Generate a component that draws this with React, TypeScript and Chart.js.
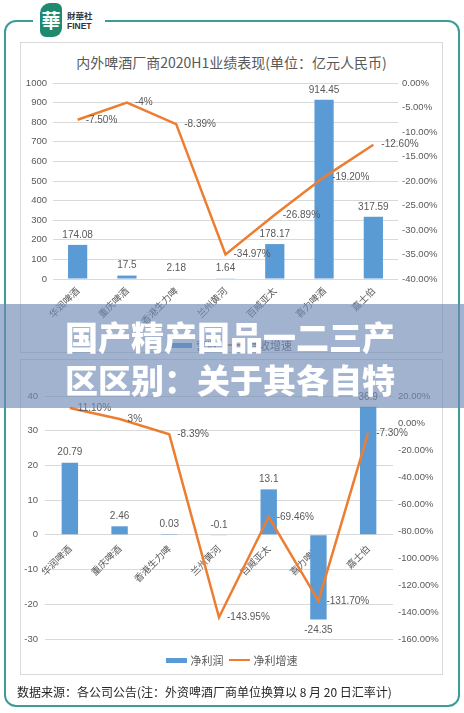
import React, { useEffect, useRef } from "react";
import { Chart, registerables } from "chart.js";
Chart.register(...registerables);

const categories = ["华润啤酒", "重庆啤酒", "香港生力啤", "兰州黄河", "百威亚太", "喜力啤酒", "嘉士伯"];
const revenue = [174.08, 17.5, 2.18, 1.64, 178.17, 914.45, 317.59];
const revenueGrowth = [-7.5, -4, -8.39, -34.97, -26.89, -19.2, -12.6];
const netProfit = [20.79, 2.46, 0.03, -0.1, 13.1, -24.35, 36.9];
const netProfitGrowth = [11.1, 3, -8.39, -143.95, -69.46, -131.7, -7.3];

const topLeftAxis = { min: 0, max: 1000, step: 100 };
const topRightAxis = { min: -40, max: 0, step: 5 };
const bottomLeftAxis = { min: -30, max: 40, step: 10 };
const bottomRightAxis = { min: -160, max: 20, step: 20 };

const titleText = "内外啤酒厂商2020H1业绩表现(单位：亿元人民币)";
const topLegend = ["营收", "营收增速"];
const bottomLegend = ["净利润", "净利增速"];
const bannerLines = ["国产精产国品一二三产", "区区别：关于其各自特"];
const footerText = "数据来源：各公司公告(注：外资啤酒厂商单位换算以 8 月 20 日汇率计)";

const BLUE = "#5b9bd5";
const ORANGE = "#ed7d31";
const GRID = "#d9d9d9";
const TEXT = "#595959";
const FONT = "'Liberation Sans', 'Noto Sans CJK SC', sans-serif";
const CJK = "'Noto Sans CJK SC', sans-serif";

const fmtPct = (v: number) => (Number.isInteger(v) ? `${v}%` : `${v.toFixed(2)}%`);

const labelPlugin = {
  id: "valueLabels",
  afterDatasetsDraw(chart: any) {
    const ctx = chart.ctx;
    ctx.save();
    ctx.font = `10px ${FONT}`;
    ctx.fillStyle = TEXT;
    chart.data.datasets.forEach((ds: any, i: number) => {
      const meta = chart.getDatasetMeta(i);
      meta.data.forEach((el: any, j: number) => {
        const v = ds.data[j] as number;
        if (meta.type === "bar") {
          ctx.textAlign = "center";
          if (v >= -1) {
            ctx.textBaseline = "bottom";
            ctx.fillText(String(v), el.x, Math.min(el.y, el.base) - 5);
          } else {
            ctx.textBaseline = "top";
            ctx.fillText(String(v), el.x, Math.max(el.y, el.base) + 6);
          }
        } else {
          ctx.textAlign = "left";
          ctx.textBaseline = "middle";
          ctx.fillText(fmtPct(v), el.x + 8, el.y);
        }
      });
    });
    ctx.restore();
  },
};

function makeConfig(opts: {
  bars: number[];
  line: number[];
  barLabel: string;
  lineLabel: string;
  left: { min: number; max: number; step: number };
  right: { min: number; max: number; step: number };
  leftWidth: number;
  rightWidth: number;
  barPct: number;
  padTop: number;
  padBottom: number;
  xAtZero: boolean;
  xHeight: number;
  leftPad: number;
  rightPad: number;
}) {
  const tickFont = { family: FONT, size: 9.5 };
  return {
    type: "bar" as const,
    data: {
      labels: categories,
      datasets: [
        {
          type: "line" as const,
          label: opts.lineLabel,
          data: opts.line,
          borderColor: ORANGE,
          backgroundColor: ORANGE,
          borderWidth: 2.5,
          pointRadius: 0,
          tension: 0,
          yAxisID: "y1",
          order: 0,
        },
        {
          type: "bar" as const,
          label: opts.barLabel,
          data: opts.bars,
          backgroundColor: BLUE,
          borderWidth: 0,
          categoryPercentage: 1,
          barPercentage: opts.barPct,
          yAxisID: "y",
          order: 1,
        },
      ],
    },
    options: {
      responsive: false,
      animation: false as const,
      layout: { padding: { top: opts.padTop, bottom: opts.padBottom, left: 0, right: 0 } },
      plugins: { legend: { display: false }, title: { display: false }, tooltip: { enabled: false } },
      scales: {
        x: {
          position: opts.xAtZero ? ({ y: 0 } as any) : "bottom",
          grid: { display: false, drawTicks: false },
          border: { display: false },
          ticks: {
            autoSkip: false,
            minRotation: 45,
            maxRotation: 45,
            padding: opts.xAtZero ? 8 : 6,
            color: TEXT,
            font: { family: CJK, size: 9.5 },
          },
          afterFit: (s: any) => {
            if (!opts.xAtZero) s.height = opts.xHeight;
          },
        },
        y: {
          position: "left",
          min: opts.left.min,
          max: opts.left.max,
          grid: { color: GRID, lineWidth: 1, drawTicks: false },
          border: { display: false },
          ticks: {
            stepSize: opts.left.step,
            color: TEXT,
            font: tickFont,
            padding: opts.leftPad,
            callback: (v: any) => String(Number(v)),
          },
          afterFit: (s: any) => {
            s.width = opts.leftWidth;
          },
        },
        y1: {
          position: "right",
          min: opts.right.min,
          max: opts.right.max,
          grid: { display: false, drawTicks: false },
          border: { display: false },
          ticks: {
            stepSize: opts.right.step,
            color: TEXT,
            font: tickFont,
            padding: opts.rightPad,
            callback: (v: any) => `${Number(v).toFixed(2)}%`,
          },
          afterFit: (s: any) => {
            s.width = opts.rightWidth;
          },
        },
      },
    },
    plugins: [labelPlugin],
  };
}

function ChartCanvas(props: { config: any; left: number; top: number; width: number; height: number }) {
  const ref = useRef<HTMLCanvasElement | null>(null);
  useEffect(() => {
    if (!ref.current) return;
    const chart = new Chart(ref.current, props.config);
    return () => chart.destroy();
  }, []);
  return (
    <canvas
      ref={ref}
      width={props.width}
      height={props.height}
      style={{ position: "absolute", left: props.left, top: props.top, width: props.width, height: props.height }}
    />
  );
}

function Legend(props: { names: string[]; top: number }) {
  return (
    <div
      style={{
        position: "absolute",
        left: 20,
        width: 423,
        top: props.top - 8,
        height: 16,
        display: "flex",
        justifyContent: "center",
        alignItems: "center",
        fontFamily: CJK,
        fontSize: 11,
        color: TEXT,
      }}
    >
      <span style={{ display: "inline-block", width: 21, height: 5, background: BLUE, marginRight: 4 }} />
      <span style={{ marginRight: 5 }}>{props.names[0]}</span>
      <span style={{ display: "inline-block", width: 21, height: 2.5, background: ORANGE, marginRight: 4 }} />
      <span>{props.names[1]}</span>
    </div>
  );
}

export default function App() {
  const topConfig = makeConfig({
    bars: revenue,
    line: revenueGrowth,
    barLabel: topLegend[0],
    lineLabel: topLegend[1],
    left: topLeftAxis,
    right: topRightAxis,
    leftWidth: 33,
    rightWidth: 45,
    barPct: 0.39,
    padTop: 41,
    padBottom: 0,
    xAtZero: false,
    xHeight: 74,
    leftPad: 6,
    rightPad: 4,
  });
  const bottomConfig = makeConfig({
    bars: netProfit,
    line: netProfitGrowth,
    barLabel: bottomLegend[0],
    lineLabel: bottomLegend[1],
    left: bottomLeftAxis,
    right: bottomRightAxis,
    leftWidth: 25,
    rightWidth: 50,
    barPct: 0.33,
    padTop: 37,
    padBottom: 36,
    xAtZero: true,
    xHeight: 0,
    leftPad: 7,
    rightPad: 5,
  });

  return (
    <div
      style={{
        position: "absolute",
        left: 0,
        top: 0,
        width: 464,
        height: 713,
        background: "#fff",
        overflow: "hidden",
      }}
    >
      {/* outer frame */}
      <div
        style={{
          position: "absolute",
          left: 4,
          top: 20,
          width: 456,
          height: 687,
          boxSizing: "border-box",
          border: "2.5px solid #3d9c98",
          borderRadius: 12,
        }}
      />
      {/* logo gap */}
      <div style={{ position: "absolute", left: 33, top: 14, width: 72, height: 12, background: "#fff" }} />
      <div
        style={{
          position: "absolute",
          left: 40,
          top: 3,
          width: 22,
          height: 34,
          background: "#1e8a6e",
          borderRadius: "10px 6px 9px 6px",
          color: "#fff",
          fontFamily: "'Noto Sans CJK TC', serif",
          fontWeight: 700,
          fontSize: 19,
          lineHeight: "34px",
          textAlign: "center",
        }}
      >
        華
      </div>
      <div
        style={{
          position: "absolute",
          left: 67,
          top: 10,
          fontFamily: "'Noto Sans CJK TC', sans-serif",
          fontWeight: 700,
          fontSize: 8.5,
          lineHeight: "10px",
          color: "#333",
        }}
      >
        財華社
      </div>
      <div
        style={{
          position: "absolute",
          left: 67,
          top: 21,
          fontFamily: "'Liberation Sans', sans-serif",
          fontWeight: 700,
          fontSize: 8.5,
          lineHeight: "10px",
          color: "#333",
        }}
      >
        FINET
      </div>

      {/* panels */}
      <div
        style={{
          position: "absolute",
          left: 20,
          top: 42,
          width: 423,
          height: 311,
          boxSizing: "border-box",
          border: "1px solid #d9d9d9",
        }}
      />
      <div
        style={{
          position: "absolute",
          left: 20,
          top: 359,
          width: 423,
          height: 316,
          boxSizing: "border-box",
          border: "1px solid #d9d9d9",
        }}
      />

      <div
        style={{
          position: "absolute",
          left: 20,
          width: 423,
          top: 52,
          height: 20,
          lineHeight: "20px",
          textAlign: "center",
          fontFamily: CJK,
          fontSize: 14,
          color: TEXT,
        }}
      >
        {titleText}
      </div>

      <ChartCanvas config={topConfig} left={20} top={42} width={423} height={311} />
      <ChartCanvas config={bottomConfig} left={20} top={359} width={423} height={316} />

      <Legend names={topLegend} top={345} />
      <Legend names={bottomLegend} top={660} />

      <div
        style={{
          position: "absolute",
          left: 17,
          top: 683,
          height: 18,
          lineHeight: "18px",
          fontFamily: CJK,
          fontSize: 12,
          color: "#262626",
          whiteSpace: "nowrap",
        }}
      >
        {footerText}
      </div>

      {/* overlay banner */}
      <div
        style={{
          position: "absolute",
          left: 0,
          top: 304,
          width: 464,
          height: 104,
          background: "rgba(110,138,180,0.65)",
        }}
      />
      <div
        style={{
          position: "absolute",
          left: 65,
          top: 315,
          fontFamily: CJK,
          fontWeight: 900,
          fontSize: 33,
          lineHeight: "43px",
          color: "#fff",
          whiteSpace: "nowrap",
        }}
      >
        <div>{bannerLines[0]}</div>
        <div>{bannerLines[1]}</div>
      </div>
    </div>
  );
}
